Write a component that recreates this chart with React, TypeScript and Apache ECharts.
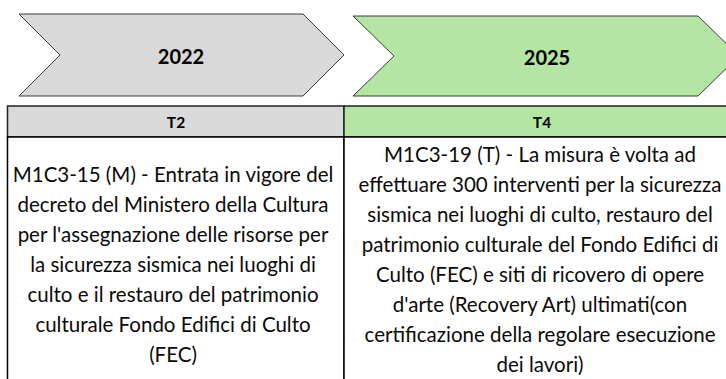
import React, { useEffect, useRef } from "react";
import * as echarts from "echarts";

const years = ["2022", "2025"];
const quarters = ["T2", "T4"];
const descLeft = [
  "M1C3-15 (M) - Entrata in vigore del",
  "decreto del Ministero della Cultura",
  "per l'assegnazione delle risorse per",
  "la sicurezza sismica nei luoghi di",
  "culto e il restauro del patrimonio",
  "culturale Fondo Edifici di Culto",
  "(FEC)",
];
const descRight = [
  "M1C3-19 (T) - La misura è volta ad",
  "effettuare 300 interventi per la sicurezza",
  "sismica nei luoghi di culto, restauro del",
  "patrimonio culturale del Fondo Edifici di",
  "Culto (FEC) e siti di ricovero di opere",
  "d'arte (Recovery Art) ultimati(con",
  "certificazione della regolare esecuzione",
  "dei lavori)",
];

const GREY = "#d9d9d9";
const GREEN = "#b4e5a2";
const FONT = "Lato, 'Noto Sans', sans-serif";

export default function App() {
  const ref = useRef<HTMLDivElement>(null);
  useEffect(() => {
    if (!ref.current) return;
    const chart = echarts.init(ref.current, undefined, { renderer: "svg" });
    const chevron = (x0: number, x1: number, y0: number, y1: number, depth: number) => {
      const ym = (y0 + y1) / 2;
      return [
        [x0, y0],
        [x1, y0],
        [x1 + depth, ym],
        [x1, y1],
        [x0, y1],
        [x0 + depth, ym],
      ];
    };
    chart.setOption({
      animation: false,
      backgroundColor: "#ffffff",
      graphic: [
        {
          type: "polygon",
          shape: { points: chevron(19, 303, 14, 96, 41) },
          style: { fill: GREY, stroke: "#3a3a3a", lineWidth: 1 },
        },
        {
          type: "polygon",
          shape: { points: chevron(353, 698, 16, 96, 41) },
          style: { fill: GREEN, stroke: "#3a3a3a", lineWidth: 1 },
        },
        {
          type: "text",
          x: 181,
          y: 56,
          style: {
            text: years[0],
            fill: "#000",
            font: `bold 20px ${FONT}`,
            align: "center",
            verticalAlign: "middle",
          },
        },
        {
          type: "text",
          x: 547,
          y: 57,
          style: {
            text: years[1],
            fill: "#000",
            font: `bold 20px ${FONT}`,
            align: "center",
            verticalAlign: "middle",
          },
        },
        {
          type: "rect",
          shape: { x: 7.5, y: 106, width: 336.5, height: 31 },
          style: { fill: GREY, stroke: "#222", lineWidth: 1.5 },
        },
        {
          type: "rect",
          shape: { x: 344, y: 106, width: 400, height: 31 },
          style: { fill: GREEN, stroke: "#222", lineWidth: 1.5 },
        },
        {
          type: "rect",
          shape: { x: 7.5, y: 137, width: 336.5, height: 260 },
          style: { fill: "#fff", stroke: "#000", lineWidth: 1.5 },
        },
        {
          type: "rect",
          shape: { x: 344, y: 137, width: 400, height: 260 },
          style: { fill: "#fff", stroke: "#000", lineWidth: 1.5 },
        },
        {
          type: "text",
          x: 176,
          y: 122,
          style: {
            text: quarters[0],
            fill: "#000",
            font: `bold 15.5px ${FONT}`,
            align: "center",
            verticalAlign: "middle",
          },
        },
        {
          type: "text",
          x: 542,
          y: 122,
          style: {
            text: quarters[1],
            fill: "#000",
            font: `bold 15.5px ${FONT}`,
            align: "center",
            verticalAlign: "middle",
          },
        },
        {
          type: "text",
          x: 173,
          y: 264,
          style: {
            text: descLeft.join("\n"),
            fill: "#0a0a0a",
            font: `20.5px ${FONT}`,
            lineHeight: 30,
            align: "center",
            verticalAlign: "middle",
          },
        },
        {
          type: "text",
          x: 540,
          y: 259,
          style: {
            text: descRight.join("\n"),
            fill: "#0a0a0a",
            font: `20.5px ${FONT}`,
            lineHeight: 30,
            align: "center",
            verticalAlign: "middle",
          },
        },
      ],
    });
    return () => chart.dispose();
  }, []);
  return (
    <div
      ref={ref}
      style={{ position: "fixed", left: 0, top: 0, width: 726, height: 379 }}
    />
  );
}
